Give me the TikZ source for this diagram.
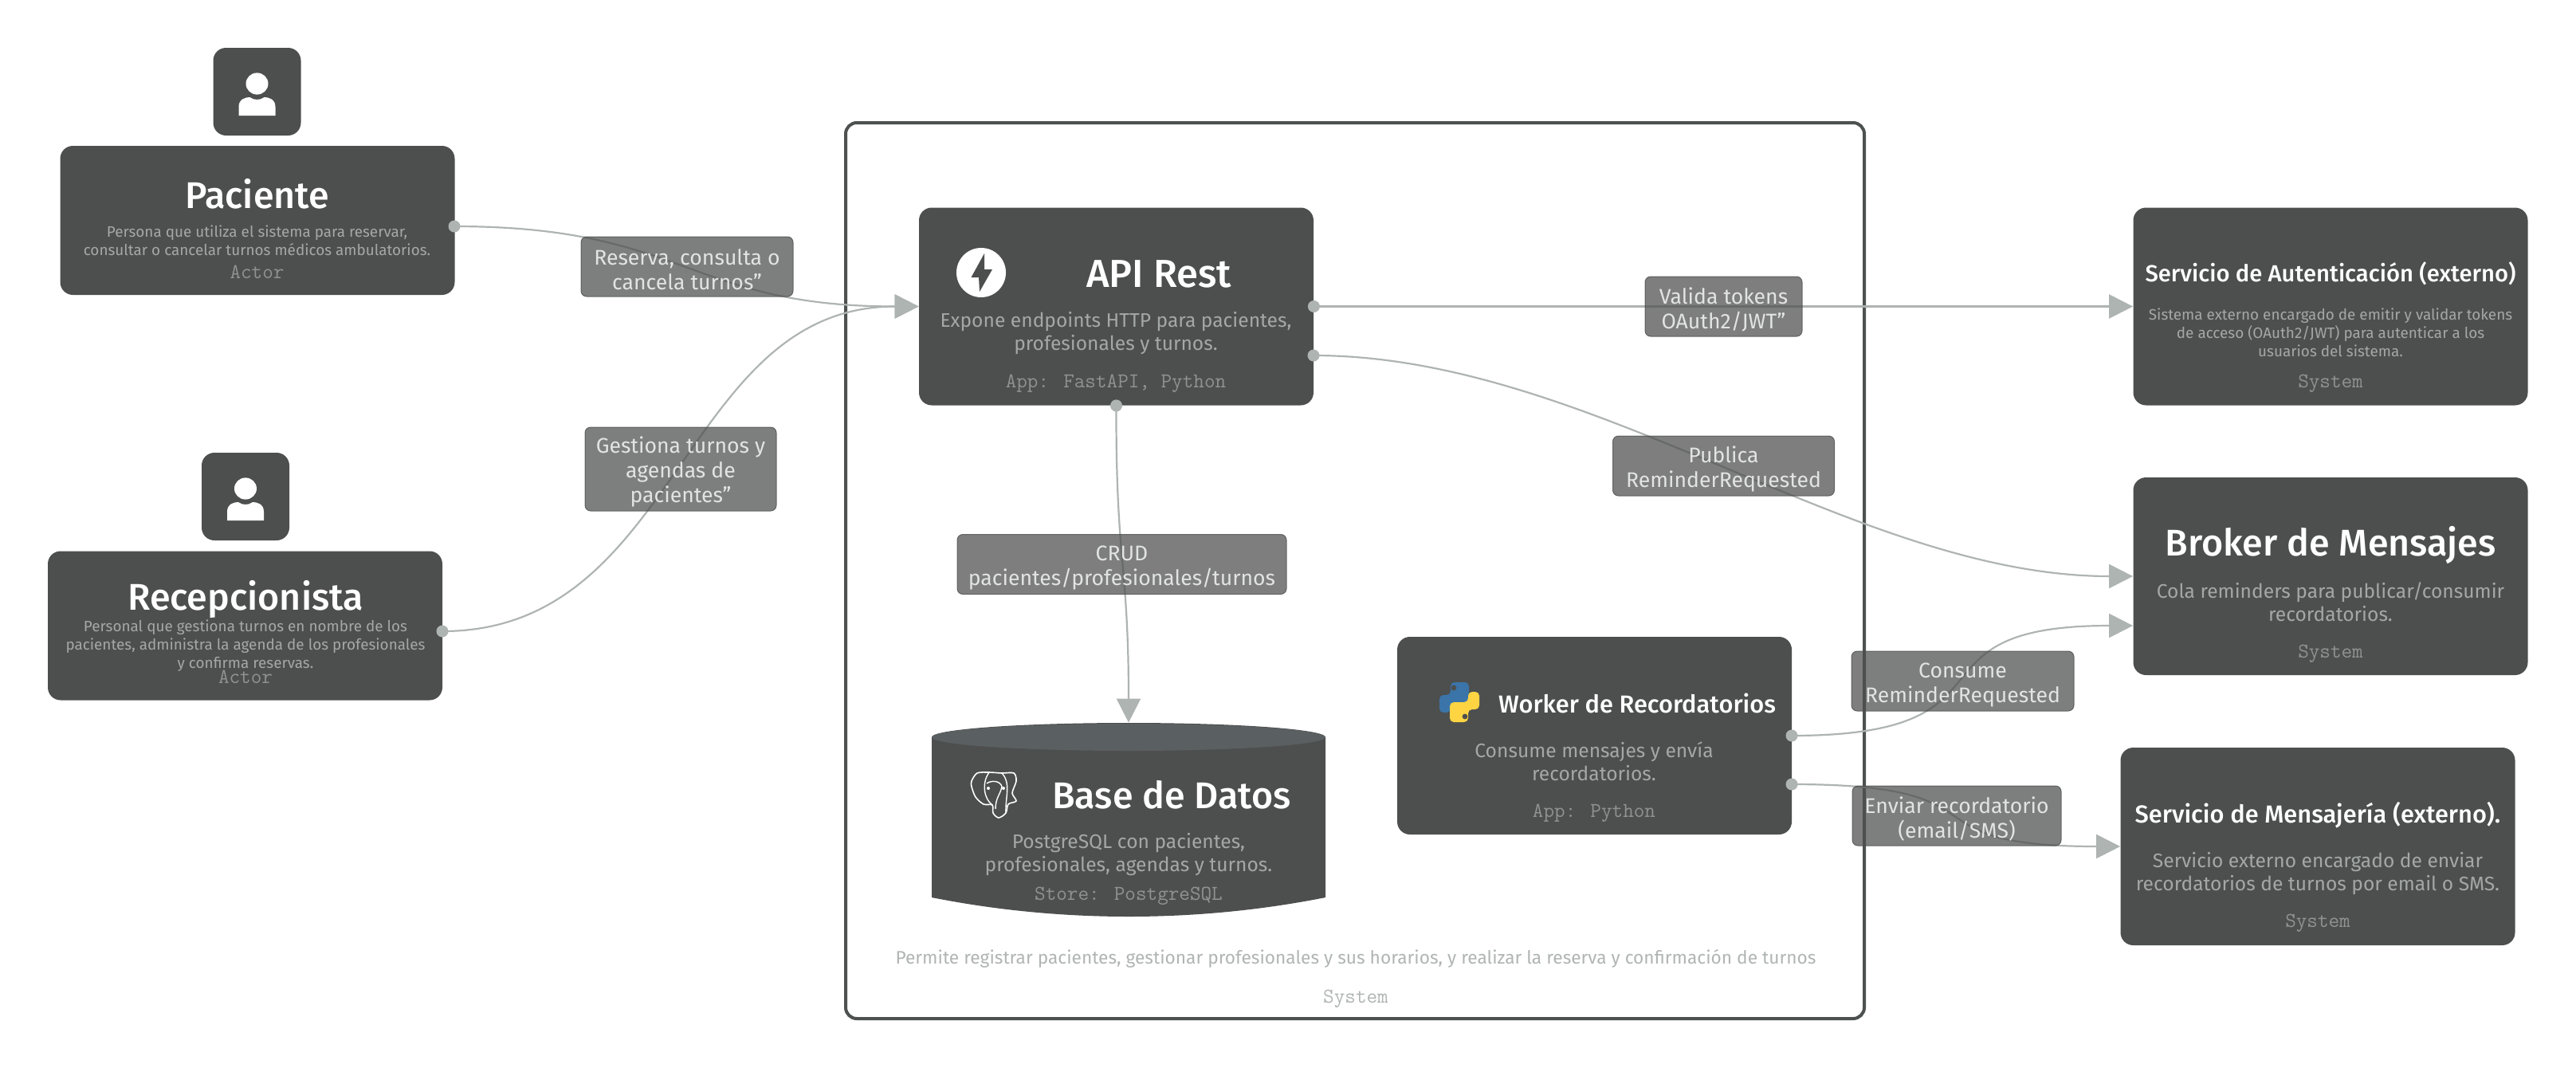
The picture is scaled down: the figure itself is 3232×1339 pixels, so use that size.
\documentclass[tikz,border=0pt]{standalone}
\usepackage{fontspec}
\setmainfont{Fira Sans}
\newfontfamily\headfont{Fira Sans Medium}
\usetikzlibrary{arrows.meta, positioning, calc}
\definecolor{boxgray}{HTML}{4D4F4E}
\definecolor{framegray}{HTML}{4D5150}
\definecolor{dbtop}{HTML}{5A5F61}
\definecolor{edgegray}{HTML}{AEB4B2}
\definecolor{descgray}{HTML}{A3A8A6}
\definecolor{techgray}{HTML}{8E9391}
\definecolor{outgray}{HTML}{B0B5B3}
\definecolor{labeltext}{HTML}{E2E3E3}
\definecolor{pyblue}{HTML}{3B74A8}
\definecolor{pyyellow}{HTML}{FFD443}
\tikzset{
  appbox/.style={fill=boxgray, rounded corners=8pt, inner sep=0pt, minimum width=247.5pt, minimum height=124pt},
  iconbox/.style={fill=boxgray, rounded corners=8pt, inner sep=0pt, minimum width=55pt, minimum height=55pt},
  actorbox/.style={appbox, minimum height=93.5pt},
  sysframe/.style={draw=framegray, fill=white, rounded corners=7pt, line width=2pt, inner sep=0pt, minimum width=639pt, minimum height=562pt},
  titlelg/.style={text=white, font=\fontsize{23.3}{26}\headfont},
  titlesm/.style={text=white, font=\fontsize{15.4}{19}\headfont},
  desclg/.style={text=descgray, align=center, font=\fontsize{12.3}{14.5}\selectfont},
  descsm/.style={text=descgray, align=center, font=\fontsize{9.45}{11.5}\selectfont},
  techtxt/.style={text=techgray, font=\fontsize{13.2}{15}\ttfamily},
  edgelabel/.style={fill=boxgray, fill opacity=.73, text opacity=1, draw=boxgray, draw opacity=.8, rounded corners=3.5pt, line width=.5pt, inner sep=0pt, minimum height=37.5pt, text height=29.5pt, text=labeltext, align=center, font=\fontsize{13.3}{15.5}\selectfont},
  port/.style={circle, fill=edgegray, inner sep=0pt, minimum size=7.5pt},
  flow/.style={-{Triangle[length=15pt,width=15pt]}, draw=edgegray, line width=1.1pt},
  person/.pic={
    \fill[white] (0,-10) ellipse [x radius=7pt, y radius=6.8pt];
    \fill[white] (-23,30) -- (-23,19) .. controls (-23,9) and (-14,7) .. (-9,7) .. controls (-4,11) and (4,11) .. (9,7) .. controls (14,7) and (23,9) .. (23,19) -- (23,30) -- cycle;
  }
}
\begin{document}
\begin{tikzpicture}[x=0.5pt,y=-0.5pt]
\useasboundingbox (0,0) rectangle (3232,1339);
% boundary
\node[sysframe] (system) at (1700,716) {};
\node[desclg, text=outgray, font=\fontsize{11.35}{14}\selectfont] (systemdesc) at (1701,1203) {Permite registrar pacientes, gestionar profesionales y sus horarios, y realizar la reserva y confirmación de turnos};
\node[techtxt, text=outgray] (systemtech) at (1701,1253) {System};

% actors
\node[iconbox] (pacienteicon) at (322.5,115) {};
\pic at (pacienteicon) {person};
\node[actorbox] (paciente) at (323,276.5) {};
\node[titlelg] (pacientetitle) at (322.5,243) {Paciente};
\node[descsm] (pacientedesc) at (322.5,302) {Persona que utiliza el sistema para reservar,\\consultar o cancelar turnos médicos ambulatorios.};
\node[techtxt] (pacientetech) at (322.5,341) {Actor};

\node[iconbox] (recepcionicon) at (308,623) {};
\pic at (recepcionicon) {person};
\node[actorbox] (recepcion) at (307.5,785) {};
\node[titlelg] (recepciontitle) at (308,752) {Recepcionista};
\node[descsm] (recepciondesc) at (308,810) {Personal que gestiona turnos en nombre de los\\pacientes, administra la agenda de los profesionales\\y confirma reservas.};
\node[techtxt] (recepciontech) at (308,849) {Actor};

% containers
\node[appbox] (api) at (1400.5,384.5) {};
\fill[white] (1231,342) circle [radius=15.5pt];
\fill[boxgray] (1235,318) -- (1218.5,348) -- (1228,348) -- (1229,366) -- (1245,338) -- (1235,338) -- cycle;
\node[titlelg, font=\fontsize{24.5}{28}\headfont] (apititle) at (1454,344) {API Rest};
\node[desclg] (apidesc) at (1400,418) {Expone endpoints HTTP para pacientes,\\profesionales y turnos.};
\node[techtxt] (apitech) at (1400,481) {App: FastAPI, Python};

\node[inner sep=0pt, minimum width=247pt, minimum height=121.5pt] (db) at (1416,1028.5) {};
\fill[boxgray] (1169,925) -- (1169,1126) .. controls (1330,1158) and (1502,1158) .. (1663,1126) -- (1663,925) -- cycle;
\fill[boxgray] (1416,925) ellipse [x radius=123.5pt, y radius=9pt];
\fill[dbtop] (1416,925) ellipse [x radius=123.5pt, y radius=8.5pt];
\begin{scope}[shift={(1247,997)}]
\draw[white, fill=boxgray, line width=.8pt] plot[smooth cycle] coordinates {(-28,-17) (-21,-27) (-6,-28) (10,-27) (25,-27) (28,-17) (23,-2) (28,8) (18,12) (15,23) (6,29) (-1,23) (-2,13) (-13,12) (-23,3) (-28,-10)};
\draw[white, line width=.7pt] (-6,-28) .. controls (-16,-14) and (-12,6) .. (-2,13);
\draw[white, line width=.7pt] (10,-27) .. controls (22,-14) and (14,4) .. (15,23);
\draw[white, line width=.7pt] (-9,-14) .. controls (-4,-18) and (8,-18) .. (10,-10) .. controls (8,0) and (2,4) .. (2,18);
\fill[white] (-7,-8) circle [radius=1pt];
\fill[white] (12,-8) circle [radius=1pt];
\end{scope}
\node[titlelg] (dbtitle) at (1470,997) {Base de Datos};
\node[desclg] (dbdesc) at (1416,1072) {PostgreSQL con pacientes,\\profesionales, agendas y turnos.};
\node[techtxt] (dbtech) at (1416,1124) {Store: PostgreSQL};

\node[appbox] (worker) at (2000.5,923) {};
\begin{scope}[shift={(1831,881)}]
\fill[pyblue, rounded corners=2.5pt] (-11,-25) -- (12,-25) -- (12,0) -- (-11,0) -- (-11,13) -- (-25,13) -- (-25,-9) -- (-11,-9) -- cycle;
\fill[pyyellow, rounded corners=2.5pt] (11,25) -- (-12,25) -- (-12,0) -- (11,0) -- (11,-13) -- (25,-13) -- (25,9) -- (11,9) -- cycle;
\fill[boxgray] (-7,-18) circle [radius=1.7pt];
\fill[boxgray] (7,18) circle [radius=1.7pt];
\end{scope}
\node[titlesm] (workertitle) at (2054,882) {Worker de Recordatorios};
\node[desclg] (workerdesc) at (2000,955.5) {Consume mensajes y envía\\recordatorios.};
\node[techtxt] (workertech) at (2000,1020) {App: Python};

% external systems
\node[appbox] (auth) at (2924,384.5) {};
\node[titlesm, font=\fontsize{14.6}{18}\headfont] (authtitle) at (2924,343) {Servicio de Autenticación (externo)};
\node[descsm] (authdesc) at (2924,417) {Sistema externo encargado de emitir y validar tokens\\de acceso (OAuth2/JWT) para autenticar a los\\usuarios del sistema.};
\node[techtxt] (authtech) at (2924,481) {System};

\node[appbox] (broker) at (2924,723) {};
\node[titlelg] (brokertitle) at (2924,684) {Broker de Mensajes};
\node[desclg] (brokerdesc) at (2924,755.5) {Cola reminders para publicar/consumir\\recordatorios.};
\node[techtxt] (brokertech) at (2924,820) {System};

\node[appbox] (mensajeria) at (2908,1062) {};
\node[titlesm] (mensajeriatitle) at (2908,1023) {Servicio de Mensajería (externo).};
\node[desclg] (mensajeriadesc) at (2908,1096) {Servicio externo encargado de enviar\\recordatorios de turnos por email o SMS.};
\node[techtxt] (mensajeriatech) at (2908,1158) {System};

% connectors
\node[port] (pacienteout) at (570,284) {};
\node[port] (recepcionout) at (555,792) {};
\node[port] (apiauth) at (api.east) {};
\node[port] (apibroker) at (1648,446) {};
\node[port] (apidb) at (api.south) {};
\node[port] (workerbroker) at (2248,923) {};
\node[port] (workersms) at (2248,984) {};
\coordinate (brokerin) at ($(broker.west)+(0,62)$);
\draw[flow] (pacienteout.center) .. controls (862,284) and (862,384.5) .. (api.west);
\draw[flow] (recepcionout.center) .. controls (854,792) and (854,384.5) .. (api.west);
\draw[flow] (apidb.center) .. controls (1400,707) and (1416,707) .. (db.north);
\draw[flow] (apiauth.center) -- (auth.west);
\draw[flow] (apibroker.center) .. controls (1998,446) and (2327,723) .. (broker.west);
\draw[flow] (workerbroker.center) .. controls (2548,923) and (2377,785) .. (brokerin);
\draw[flow] (workersms.center) .. controls (2530,984) and (2379,1062) .. (mensajeria.west);

% labels
\node[edgelabel, minimum width=133pt] (reservalabel) at (862,334.5) {Reserva, consulta o\\cancela turnos”};
\node[edgelabel, minimum width=120pt, minimum height=52.5pt, text height=45pt] (gestionalabel) at (854,588.5) {Gestiona turnos y\\agendas de\\pacientes”};
\node[edgelabel, minimum width=206.5pt] (crudlabel) at (1407.5,708) {CRUD\\pacientes/profesionales/turnos};
\node[edgelabel, minimum width=98.5pt] (validalabel) at (2162.5,384.5) {Valida tokens\\OAuth2/JWT”};
\node[edgelabel, minimum width=139pt] (publicalabel) at (2162.5,584.5) {Publica\\ReminderRequested};
\node[edgelabel, minimum width=139.5pt] (consumelabel) at (2462.5,854.5) {Consume\\ReminderRequested};
\node[edgelabel, minimum width=131pt] (enviarlabel) at (2455,1023.5) {Enviar recordatorio\\(email/SMS)};
\end{tikzpicture}
\end{document}
